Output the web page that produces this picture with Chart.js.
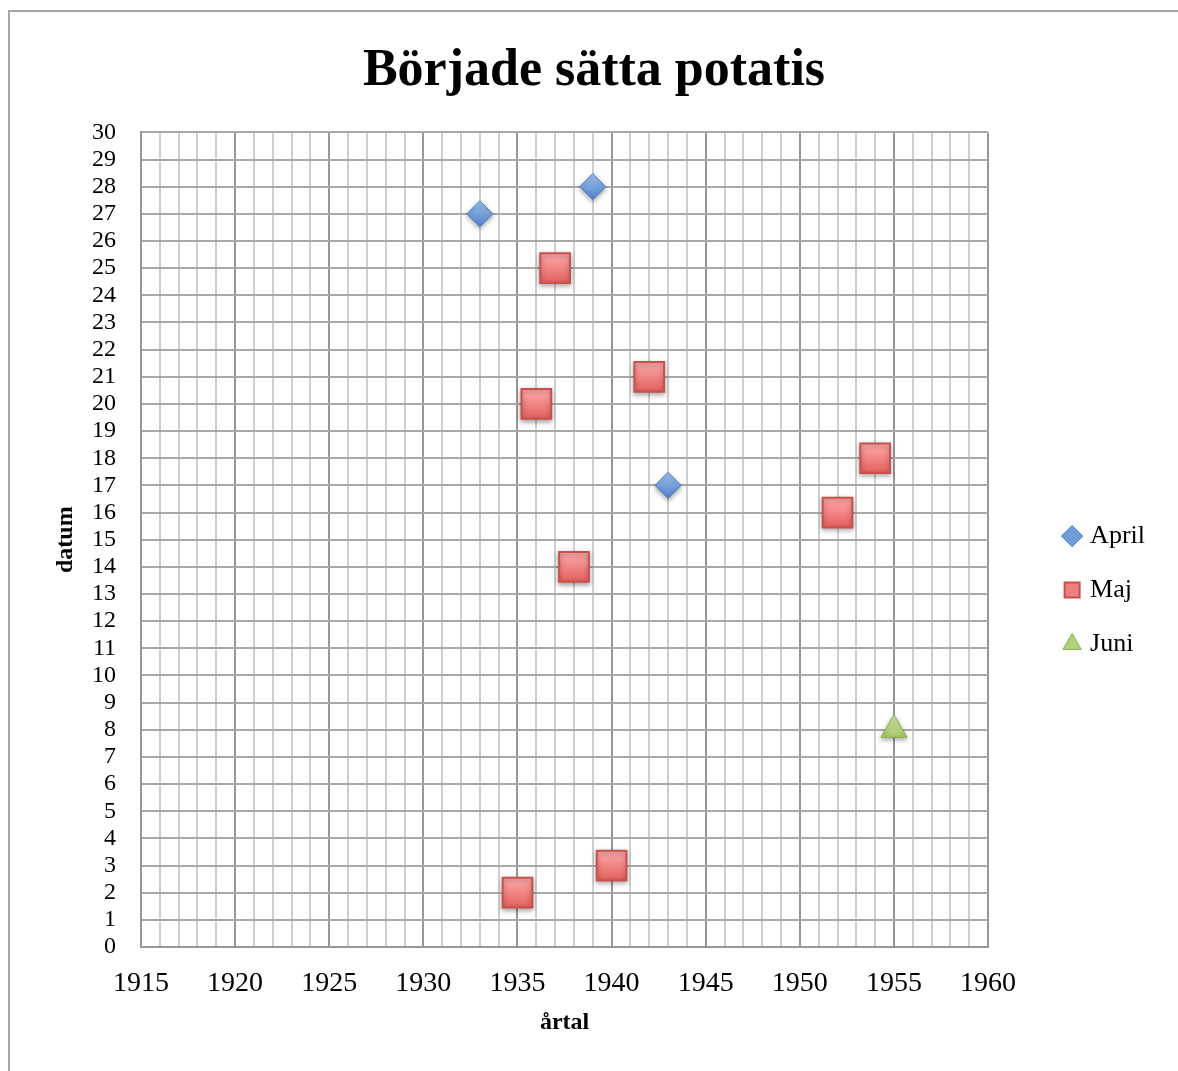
<!DOCTYPE html>
<html>
<head>
<meta charset="utf-8">
<script src="https://cdn.jsdelivr.net/npm/chart.js@4"></script>
<style>
  body { margin: 0; background: #fff; }
  canvas { display: block; }
</style>
</head>
<body>
<canvas id="chart" width="1178" height="1071"></canvas>
<script>
// Startdatum per år (x = år, y = dag i månaden)
const aprilYears = [1933, 1939, 1943];
const aprilDays = [27, 28, 17];
const majYears = [1937, 1942, 1936, 1954, 1952, 1938, 1940, 1935];
const majDays = [25, 21, 20, 18, 16, 14, 3, 2];
const juniYears = [1955];
const juniDays = [8];

const xMin = 1915, xMax = 1960;
const yMin = 0, yMax = 30;

const toPoints = (xs, ys) => xs.map((x, i) => ({ x: x, y: ys[i] }));

const FONT = '"Liberation Serif", "DejaVu Serif", serif';

// vertikal gradient för varje markör, ljus upptill och mörkare nertill
function vGrad(c, light, dark, r) {
    const chart = c.chart;
    if (c.type !== 'data' || !c.parsed || !chart.scales.y) return dark;
    const y = chart.scales.y.getPixelForValue(c.parsed.y);
    if (!isFinite(y)) return dark;
    const g = chart.ctx.createLinearGradient(0, y - r, 0, y + r);
    g.addColorStop(0, light);
    g.addColorStop(1, dark);
    return g;
}

const legendFill = ['#6f9ddb', '#ee7f7f', '#afd27a'];

// vit bakgrund + grå ram runt diagrammet, skugga under markörerna
const framePlugin = {
    id: 'frame',
    beforeDraw(chart) {
        const c = chart.ctx;
        c.save();
        c.fillStyle = '#fff';
        c.fillRect(0, 0, chart.width, chart.height);
        c.strokeStyle = '#a6a6a6';
        c.lineWidth = 2;
        c.strokeRect(9, 11, chart.width + 20, chart.height + 20);
        c.restore();
    },
    beforeDatasetsDraw(chart) {
        const c = chart.ctx;
        c.save();
        c.shadowColor = 'rgba(0,0,0,0.35)';
        c.shadowBlur = 5;
        c.shadowOffsetY = 2;
    },
    afterDatasetsDraw(chart) {
        chart.ctx.restore();
    }
};

new Chart(document.getElementById('chart'), {
    type: 'scatter',
    data: {
        datasets: [
            {
                label: 'April',
                data: toPoints(aprilYears, aprilDays),
                yAxisID: 'y',
                pointStyle: 'rectRot',
                pointRadius: 13,
                pointHoverRadius: 13,
                backgroundColor: c => vGrad(c, '#9dc0ec', '#4f84cc', 13),
                borderColor: '#4a7ebb',
                borderWidth: 1
            },
            {
                label: 'Maj',
                data: toPoints(majYears, majDays),
                yAxisID: 'y',
                pointStyle: 'rect',
                pointRadius: 21,
                pointHoverRadius: 21,
                backgroundColor: c => vGrad(c, '#ffabab', '#e2605d', 15),
                borderColor: '#c8504d',
                borderWidth: 2
            },
            {
                label: 'Juni',
                data: toPoints(juniYears, juniDays),
                yAxisID: 'y',
                pointStyle: 'triangle',
                pointRadius: 15,
                pointHoverRadius: 15,
                backgroundColor: c => vGrad(c, '#cfe6a6', '#98c052', 15),
                borderColor: '#8db050',
                borderWidth: 1
            }
        ]
    },
    options: {
        responsive: false,
        animation: false,
        events: [],
        layout: { padding: { left: 33, right: 23, top: 0, bottom: 0 } },
        plugins: {
            title: {
                display: true,
                text: 'Började sätta potatis',
                color: '#000',
                font: { family: FONT, size: 52, weight: 'bold' },
                padding: { top: 40, bottom: 30 }
            },
            legend: {
                position: 'right',
                title: {
                    display: true,
                    text: ' ',
                    font: { size: 1 },
                    padding: { top: 108, bottom: 0 }
                },
                labels: {
                    usePointStyle: true,
                    boxHeight: 15,
                    boxWidth: 10,
                    padding: 28,
                    color: '#000',
                    font: { family: FONT, size: 26 },
                    generateLabels(chart) {
                        const items = Chart.defaults.plugins.legend.labels.generateLabels(chart);
                        items.forEach((it, i) => { it.fillStyle = legendFill[i]; });
                        return items;
                    }
                }
            },
            tooltip: { enabled: false }
        },
        scales: {
            x: {
                type: 'linear',
                min: xMin,
                max: xMax,
                afterFit(scale) { scale.height = 124; },
                ticks: {
                    stepSize: 1,
                    autoSkip: false,
                    maxRotation: 0,
                    padding: 20,
                    color: '#000',
                    font: { family: FONT, size: 28 },
                    callback: v => (v % 5 === 0 ? String(v) : '')
                },
                grid: {
                    drawTicks: false,
                    lineWidth: 2,
                    color: ctx => (ctx.tick && ctx.tick.value % 5 === 0 ? '#969696' : '#cfcfcf')
                },
                border: { color: '#969696', width: 2 },
                title: {
                    display: true,
                    text: 'årtal',
                    color: '#000',
                    font: { family: FONT, size: 24, weight: 'bold' },
                    padding: { top: 0, bottom: 34 }
                }
            },
            y: {
                min: yMin,
                max: yMax,
                afterFit(scale) { scale.width = 108; },
                ticks: {
                    stepSize: 1,
                    autoSkip: false,
                    padding: 25,
                    color: '#000',
                    font: { family: FONT, size: 24 }
                },
                grid: {
                    drawTicks: false,
                    lineWidth: 2,
                    color: '#a8a8a8'
                },
                border: { color: '#969696', width: 2 },
                title: {
                    display: true,
                    text: 'datum',
                    color: '#000',
                    font: { family: FONT, size: 24, weight: 'bold' },
                    padding: { top: 18, bottom: 0 }
                }
            },
            // tom axel som bara ger luft mellan ritytan och förklaringen
            gap: {
                type: 'linear',
                position: 'right',
                afterFit(scale) { scale.width = 51; },
                grid: { display: false },
                border: { display: false },
                ticks: { display: false }
            }
        }
    },
    plugins: [framePlugin]
});
</script>
</body>
</html>
